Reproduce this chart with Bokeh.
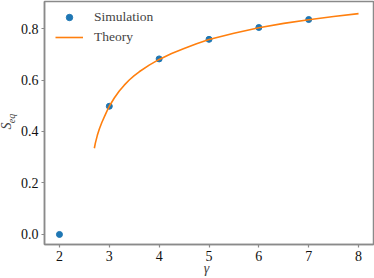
import math
from bokeh.plotting import figure
from bokeh.models import Label, FixedTicker
from bokeh.embed import file_html
from bokeh.resources import INLINE

# Simulation points
sim_gamma = [2, 3, 4, 5, 6, 7]
sim_s = [0.0, 0.498, 0.682, 0.758, 0.804, 0.835]

# Theory curve
th_gamma = [2.70, 2.72, 2.76, 2.80, 2.85, 2.90, 2.95, 3.00, 3.10, 3.20, 3.30, 3.40,
            3.50, 3.60, 3.80, 4.00, 4.25, 4.50, 4.75, 5.00, 5.50, 6.00, 6.50, 7.00,
            7.50, 8.00]
th_s = [0.335, 0.355, 0.385, 0.410, 0.435, 0.457, 0.478, 0.498, 0.530, 0.557, 0.580,
        0.600, 0.617, 0.632, 0.658, 0.680, 0.703, 0.722, 0.741, 0.757, 0.782, 0.803,
        0.820, 0.834, 0.847, 0.858]

x_ticks = [2, 3, 4, 5, 6, 7, 8]
y_ticks = [0.0, 0.2, 0.4, 0.6, 0.8]

FONT = "Liberation Serif"
GRAY = "#8a8a8a"
BLUE = "#1f77b4"
ORANGE = "#ff7f0e"

p = figure(width=374, height=278, x_range=(1.70, 8.30), y_range=(-0.039, 0.905),
           output_backend="svg", toolbar_location=None,
           min_border_left=39, min_border_right=1, min_border_top=1, min_border_bottom=34)

p.grid.visible = False
p.outline_line_color = GRAY
p.outline_line_width = 1.5
p.background_fill_color = "white"
p.border_fill_color = "white"

for axes in (p.xaxis, p.yaxis):
    axes.axis_line_color = GRAY
    axes.axis_line_width = 1.5
    axes.major_tick_line_color = GRAY
    axes.major_tick_line_width = 1.2
    axes.major_tick_out = 3
    axes.major_tick_in = 0
    axes.minor_tick_line_color = None
    axes.major_label_text_font = FONT
    axes.major_label_text_font_size = "14px"
    axes.major_label_text_color = "#111111"
    axes.major_label_standoff = 3

p.xaxis.ticker = FixedTicker(ticks=x_ticks)
p.yaxis.ticker = FixedTicker(ticks=y_ticks)
p.yaxis.major_label_overrides = {t: f"{t:.1f}" for t in y_ticks}
p.xaxis.major_label_overrides = {t: str(t) for t in x_ticks}

p.scatter(sim_gamma, sim_s, size=6, color=BLUE, legend_label="Simulation")
p.line(th_gamma, th_s, line_color=ORANGE, line_width=1.6, legend_label="Theory")

lg = p.legend[0]
lg.location = (11, 199)
lg.margin = 0
lg.padding = 0
lg.spacing = 4
lg.glyph_width = 28
lg.glyph_height = 16
lg.label_height = 16
lg.label_standoff = 11
lg.label_text_font = FONT
lg.label_text_font_size = "13.5px"
lg.border_line_alpha = 0
lg.background_fill_alpha = 0

# axis-label texts in canvas pixel units, spread over side panels that have room
p.add_layout(Label(x=6, y=125.5, x_units="canvas", y_units="canvas", text="S",
                   angle=math.pi / 2, text_align="center", text_baseline="middle",
                   text_font=FONT, text_font_style="italic", text_font_size="14px"), "below")
p.add_layout(Label(x=10.7, y=118, x_units="canvas", y_units="canvas", text="eq",
                   angle=math.pi / 2, text_align="center", text_baseline="middle",
                   text_font=FONT, text_font_style="italic", text_font_size="10px"), "left")
p.add_layout(Label(x=206, y=268, x_units="canvas", y_units="canvas", text="γ",
                   text_align="center", text_baseline="middle",
                   text_font=FONT, text_font_style="italic", text_font_size="14px"), "left")

open("out.html", "w").write(file_html(p, INLINE))
